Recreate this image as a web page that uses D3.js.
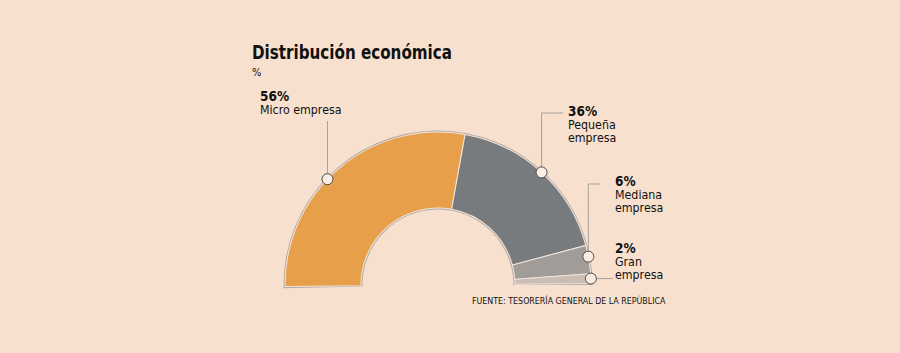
<!DOCTYPE html>
<html>
<head>
<meta charset="utf-8">
<script src="https://cdn.jsdelivr.net/npm/d3@7"></script>
<style>
  body { margin: 0; background: #F8E0CE; }
  svg { display: block; }
  text { font-family: "DejaVu Sans Condensed", "DejaVu Sans", sans-serif; fill: #111; }
</style>
</head>
<body>
<svg id="chart"></svg>
<script>
// data
const categories = ["Micro empresa", "Pequeña empresa", "Mediana empresa", "Gran empresa"];
const values = [56, 36, 6, 2];
const labelLines = [["Micro empresa"], ["Pequeña", "empresa"], ["Mediana", "empresa"], ["Gran", "empresa"]];
const colors = ["#E89F4A", "#777B7E", "#A19C98", "#C9BDB4"];

const width = 900, height = 353;
const cx = 438, cy = 285;
const outerR = 153, innerR = 77;
const tilt = -0.6; // the half ring leans a little

const svg = d3.select('#chart')
    .attr('width', width)
    .attr('height', height);

svg.append('rect').attr('width', width).attr('height', height).attr('fill', '#F8E0CE');

// title
svg.append('text')
    .attr('x', 252).attr('y', 59)
    .attr('textLength', 200).attr('lengthAdjust', 'spacingAndGlyphs')
    .style('font-weight', 'bold').style('font-size', '19px')
    .text('Distribución económica');
svg.append('text')
    .attr('x', 252).attr('y', 76)
    .style('font-size', '11px')
    .text('%');

const pie = d3.pie()
    .sort(null)
    .startAngle(-Math.PI / 2)
    .endAngle(Math.PI / 2)
    .value(d => d);

const arcs = pie(values);

const arc = d3.arc().innerRadius(innerR).outerRadius(outerR);

const g = svg.append('g').attr('transform', `translate(${cx},${cy}) rotate(${tilt})`);

// outline behind
g.append('path')
    .attr('d', d3.arc().innerRadius(innerR - 1.5).outerRadius(outerR + 1.5)
        .startAngle(-Math.PI / 2 - 0.01).endAngle(Math.PI / 2 + 0.01)())
    .attr('fill', '#B5A9A2');

g.selectAll('path.slice')
    .data(arcs)
    .enter()
    .append('path')
    .attr('class', 'slice')
    .attr('d', arc)
    .attr('fill', (d, i) => colors[i])
    .attr('stroke', '#F2E6DE')
    .attr('stroke-width', 1);

// callouts: dot on outer edge, leader line, label
const labelPos = [
    {x: 260, y: 101, mode: 'up', lineTop: 121, at: 0.44},
    {x: 568, y: 116, mode: 'upright', lineTop: 113, lineEnd: 563, at: 0.5},
    {x: 615, y: 186, mode: 'upright', lineTop: 184, lineEnd: 600, at: 0.4},
    {x: 615, y: 253, mode: 'right', lineEnd: 613, at: 0.5}
];

const rad = tilt * Math.PI / 180;

arcs.forEach((d, i) => {
    const lp = labelPos[i];
    const a = d.startAngle + (d.endAngle - d.startAngle) * lp.at + rad;
    const px = cx + outerR * Math.sin(a);
    const py = cy - outerR * Math.cos(a);
    let pts;
    if (lp.mode === 'up') pts = [[px, py], [px, lp.lineTop]];
    else if (lp.mode === 'upright') pts = [[px, py], [px, lp.lineTop], [lp.lineEnd, lp.lineTop]];
    else pts = [[px, py], [lp.lineEnd, py]];

    svg.append('path')
        .attr('d', d3.line()(pts))
        .attr('fill', 'none')
        .attr('stroke', '#A9A09A')
        .attr('stroke-width', 1);

    svg.append('circle')
        .attr('cx', px).attr('cy', py).attr('r', 5.5)
        .attr('fill', '#FBEDE3')
        .attr('stroke', '#4A4A4A')
        .attr('stroke-width', 1);

    const t = svg.append('text').attr('x', lp.x).attr('y', lp.y);
    t.append('tspan')
        .attr('x', lp.x)
        .style('font-weight', 'bold').style('font-size', '13.5px')
        .text(values[i] + '%');
    labelLines[i].forEach(line => {
        t.append('tspan')
            .attr('x', lp.x).attr('dy', 13)
            .style('font-size', '12.3px')
            .text(line);
    });
});

// source
svg.append('text')
    .attr('x', 472).attr('y', 304)
    .style('font-size', '8.8px')
    .text('FUENTE: TESORERÍA GENERAL DE LA REPÚBLICA');
</script>
</body>
</html>
